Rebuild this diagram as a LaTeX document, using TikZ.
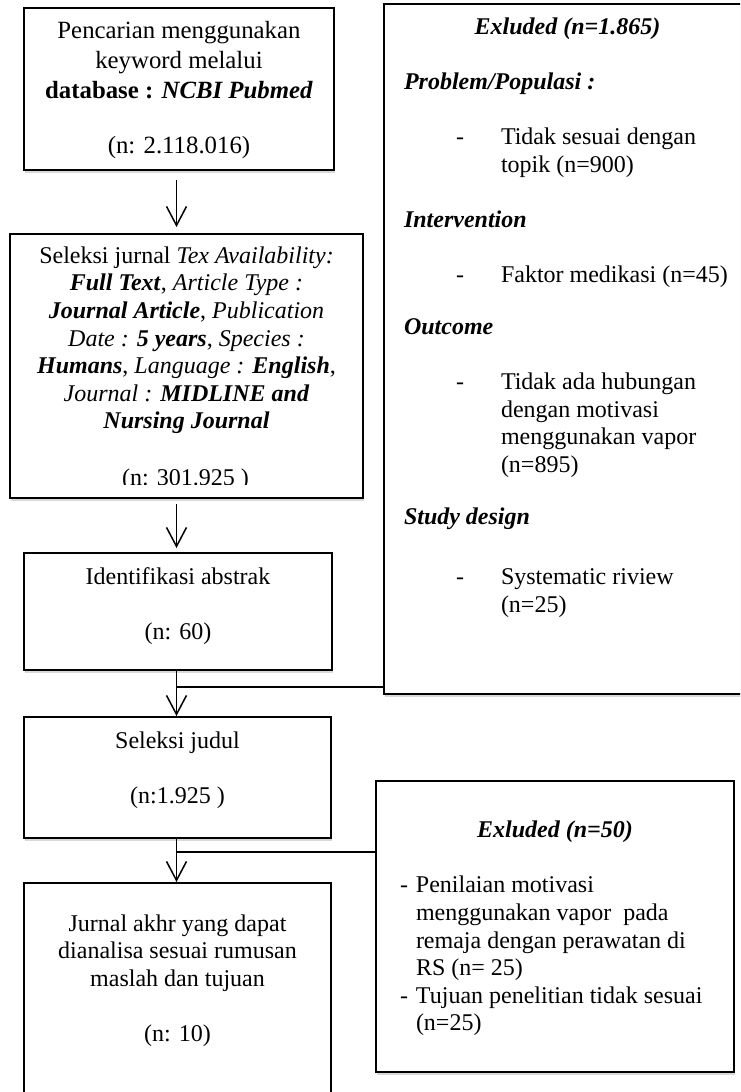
\documentclass[tikz,border=0pt]{standalone}
\usepackage{fontspec}
\setmainfont{Liberation Serif}
\usetikzlibrary{arrows.meta,shadows}

\newcommand{\bfit}[1]{\textbf{\textit{#1}}}
\newcommand{\exitem}[1]{\hspace*{36pt}\makebox[22.5pt][l]{-}#1}
\newcommand{\excont}[1]{\hspace*{58.5pt}#1}

\begin{document}
\begin{tikzpicture}[x=0.5pt,y=-0.5pt,
    box/.style={draw,line width=1pt,fill=white,inner sep=0pt,anchor=north west,
      font=\fontsize{12}{13.8}\selectfont,
      drop shadow={shadow xshift=0.6pt,shadow yshift=-1.4pt,opacity=0.3}},
    arr/.style={line width=0.75pt,-{Straight Barb[length=9.5pt,width=10pt]}},
    link/.style={line width=0.75pt}]
  \useasboundingbox (0,0) rectangle (740,1092);
  \clip (0,0) rectangle (740,1092);

  % left column
  \node[box] (search) at (23,7) {\parbox[c][81pt][t]{155pt}{\centering
      \fontsize{12.4}{15}\selectfont\vspace*{6.8pt}%
      Pencarian menggunakan\\ keyword melalui\\
      \textbf{database : \textit{NCBI Pubmed}}\\[12.5pt] (n: 2.118.016)}};
  \node[box] (filter) at (9,233) {\parbox[c][132pt][t]{176.5pt}{\centering\vspace*{6.3pt}%
      Seleksi jurnal \textit{Tex Availability:}\\
      \bfit{Full Text}, \textit{Article Type :}\\
      \bfit{Journal Article}, \textit{Publication}\\
      \textit{Date :} \bfit{5 years}, \textit{Species :}\\
      \bfit{Humans}, \textit{Language :} \bfit{English},\\
      \textit{Journal :} \bfit{MIDLINE and}\\
      \bfit{Nursing Journal}}};
  \begin{scope}
    \clip (9,233) rectangle (362,484);
    \node[anchor=base,font=\fontsize{12}{13.8}\selectfont] (filter-n) at (185.5,485) {(n: 301.925 )};
  \end{scope}
  \node[box] (abstract) at (23,552) {\parbox[c][58.5pt][t]{154pt}{\centering\vspace*{7.3pt}%
      Identifikasi abstrak\\[13.8pt] (n: 60)}};
  \node[box] (title) at (23,716) {\parbox[c][60.5pt][t]{153.5pt}{\centering\vspace*{7.3pt}%
      Seleksi judul\\[13.8pt] (n:1.925 )}};
  \node[box] (final) at (23,882) {\parbox[c][120pt][t]{153.5pt}{\centering\vspace*{15.8pt}%
      Jurnal akhr yang dapat\\ dianalisa sesuai rumusan\\ maslah dan tujuan\\[13.8pt] (n: 10)}};

  % excluded boxes
  \node[box] (excl1) at (383,3) {\parbox[c][345pt][t]{183.5pt}{\raggedright\vspace*{6.8pt}%
      \makebox[\linewidth]{\bfit{Exluded (n=1.865)}}\\[13.8pt]
      \hspace*{10pt}\bfit{Problem/Populasi :}\\[13.8pt]
      \exitem{Tidak sesuai dengan}\\
      \excont{topik (n=900)}\\[13.8pt]
      \hspace*{10pt}\bfit{Intervention}\\[13.8pt]
      \exitem{Faktor medikasi (n=45)}\\[12pt]
      \hspace*{10pt}\bfit{Outcome}\\[13.8pt]
      \exitem{Tidak ada hubungan}\\
      \excont{dengan motivasi}\\
      \excont{menggunakan vapor}\\
      \excont{(n=895)}\\[12.5pt]
      \hspace*{10pt}\bfit{Study design}\\[16pt]
      \exitem{Systematic riview}\\
      \excont{(n=25)}}};
  \node[box] (excl2) at (375,780) {\parbox[c][145.5pt][t]{179pt}{\raggedright\vspace*{20pt}%
      \makebox[\linewidth]{\bfit{Exluded (n=50)}}\\[13.8pt]
      \hspace*{12pt}\makebox[8pt][l]{-}Penilaian motivasi\\
      \hspace*{20pt}menggunakan vapor\ \ pada\\
      \hspace*{20pt}remaja dengan perawatan di\\
      \hspace*{20pt}RS (n= 25)\\
      \hspace*{12pt}\makebox[8pt][l]{-}Tujuan penelitian tidak sesuai\\
      \hspace*{20pt}(n=25)}};

  % connectors
  \coordinate (spine) at (176.5,0);
  \coordinate (j1) at (176.5,687);
  \coordinate (j2) at (176.5,852);
  \draw[arr,shorten <=4.5pt,shorten >=3pt] (search.south -| spine) -- (filter.north -| spine);
  \draw[arr,shorten <=2.5pt,shorten >=2pt] (filter.south -| spine) -- (abstract.north -| spine);
  \draw[arr] (abstract.south -| spine) -- (title.north -| spine);
  \draw[link] (j1) -- (j1 -| excl1.west);
  \draw[arr] (title.south -| spine) -- (final.north -| spine);
  \draw[link] (j2) -- (j2 -| excl2.west);
\end{tikzpicture}
\end{document}
